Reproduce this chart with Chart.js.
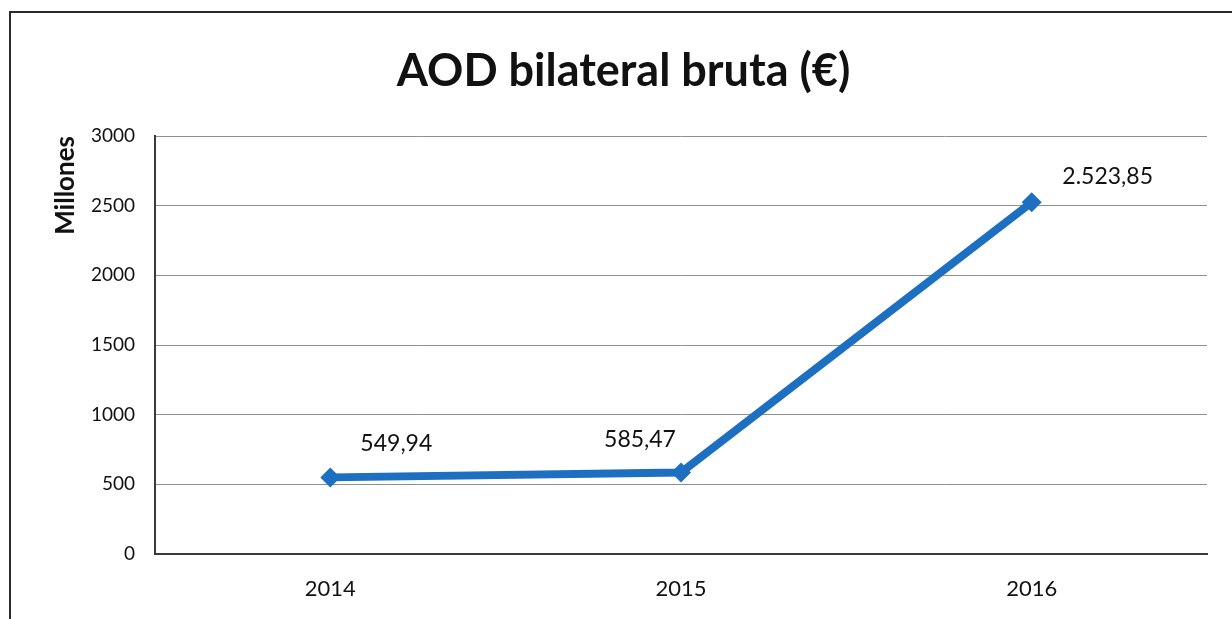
<!DOCTYPE html>
<html>
<head>
<meta charset="utf-8">
<script src="https://cdn.jsdelivr.net/npm/chart.js@4.4.1/dist/chart.umd.min.js"></script>
<style>
  html, body { margin: 0; padding: 0; background: #ffffff; }
  #wrap { width: 1232px; height: 619px; }
</style>
</head>
<body>
<div id="wrap"><canvas id="c" width="1232" height="619"></canvas></div>
<script>
const categories = ['2014', '2015', '2016'];
const values = [549.94, 585.47, 2523.85];
const valueLabels = ['549,94', '585,47', '2.523,85'];
const yTicks = [0, 500, 1000, 1500, 2000, 2500, 3000];
const chartTitle = 'AOD bilateral bruta (€)';
const yAxisTitle = 'Millones';

const FONT = 'Lato, "Open Sans", sans-serif';

const framePlugin = {
  id: 'frame',
  beforeDraw(chart) {
    const ctx = chart.ctx;
    ctx.save();
    ctx.fillStyle = '#ffffff';
    ctx.fillRect(0, 0, chart.width, chart.height);
    ctx.strokeStyle = '#2b2b2b';
    ctx.lineWidth = 2;
    ctx.beginPath();
    ctx.moveTo(10, chart.height);
    ctx.lineTo(10, 12);
    ctx.lineTo(chart.width, 12);
    ctx.stroke();
    ctx.restore();
  }
};

const labelPlugin = {
  id: 'valueLabels',
  afterDatasetsDraw(chart) {
    const ctx = chart.ctx;
    const meta = chart.getDatasetMeta(0);
    const offsets = [[66, -34], [-41, -33], [76, -26]];
    ctx.save();
    ctx.font = '23px ' + FONT;
    ctx.fillStyle = '#111111';
    ctx.textAlign = 'center';
    ctx.textBaseline = 'middle';
    meta.data.forEach((pt, i) => {
      const o = offsets[i] || [0, -30];
      ctx.fillText(valueLabels[i], pt.x + o[0], pt.y + o[1]);
    });
    ctx.restore();
  }
};

new Chart(document.getElementById('c'), {
  type: 'line',
  data: {
    labels: categories,
    datasets: [{
      data: values,
      borderColor: '#1d6fc2',
      backgroundColor: '#1d6fc2',
      borderWidth: 8,
      pointStyle: 'rectRot',
      pointRadius: 10,
      pointBorderWidth: 0,
      pointBackgroundColor: '#1d6fc2',
      tension: 0,
      fill: false
    }]
  },
  options: {
    responsive: false,
    animation: false,
    devicePixelRatio: 1,
    layout: { padding: { left: 40, right: 25, top: 0, bottom: 0 } },
    plugins: {
      legend: { display: false },
      tooltip: { enabled: false },
      title: {
        display: true,
        text: chartTitle,
        color: '#111111',
        font: { family: FONT, size: 45, weight: 'bold', lineHeight: 1.2 },
        padding: { top: 44, bottom: 38 }
      }
    },
    scales: {
      x: {
        offset: true,
        afterFit(scale) { scale.height = 65; },
        grid: { display: false, drawTicks: false },
        border: { display: true, color: '#3a3a3a', width: 2 },
        ticks: { color: '#111111', font: { family: FONT, size: 22 }, padding: 22 }
      },
      y: {
        min: 0,
        max: 3000,
        afterBuildTicks(scale) { scale.ticks = yTicks.map(v => ({ value: v })); },
        afterFit(scale) { scale.width = 115; },
        grid: { color: '#8f8f8f', lineWidth: 1, drawTicks: false },
        border: { display: true, color: '#3a3a3a', width: 2 },
        ticks: {
          color: '#111111',
          font: { family: FONT, size: 19 },
          padding: 20,
          callback: (v) => String(v)
        },
        title: {
          display: true,
          text: yAxisTitle,
          align: 'end',
          color: '#111111',
          font: { family: FONT, size: 26, weight: 'bold' },
          padding: { top: 10, bottom: 0 }
        }
      }
    }
  },
  plugins: [framePlugin, labelPlugin]
});
</script>
</body>
</html>
